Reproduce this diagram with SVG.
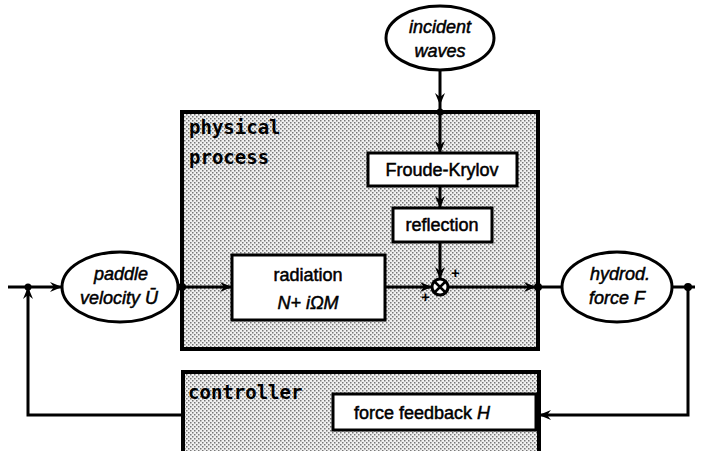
<svg xmlns="http://www.w3.org/2000/svg" width="701" height="451" viewBox="0 0 701 451">
<style>
.ln{stroke:#000;stroke-width:3;fill:none}
.box{fill:#fff;stroke:#000;stroke-width:3}
.shade{fill:url(#dots);stroke:#000;stroke-width:4}
.t{font-family:"Liberation Sans",Arial,sans-serif;font-size:18px;fill:#000;stroke:#000;stroke-width:0.5;text-anchor:middle}
.ti{font-family:"Liberation Sans",Arial,sans-serif;font-size:18px;font-style:italic;fill:#000;stroke:#000;stroke-width:0.5;text-anchor:middle}
.bt{font-family:"DejaVu Sans Mono",monospace;font-size:19px;font-weight:bold;fill:#000}
</style>
<defs>
<pattern id="dots" width="4" height="4" patternUnits="userSpaceOnUse">
<rect width="4" height="4" fill="#f0f0f0"/>
<rect x="0" y="0" width="1.5" height="1.5" fill="#777"/>
<rect x="2" y="2" width="1.5" height="1.5" fill="#777"/>
</pattern>
<marker id="ar" markerWidth="12" markerHeight="10" refX="11" refY="5" orient="auto" markerUnits="userSpaceOnUse">
<path d="M0,0 L12,5 L0,10 L4,5 Z" fill="#000"/>
</marker>
</defs>
<g id="physical-process">
<rect class="shade" x="182" y="112" width="356" height="237"/>
<text class="bt" x="189" y="134">physical</text>
<text class="bt" x="189" y="164">process</text>
</g>
<g id="controller">
<rect class="shade" x="183" y="372" width="356" height="84"/>
<text class="bt" x="188" y="399">controller</text>
</g>
<g id="incident-waves">
<ellipse cx="440" cy="38" rx="54" ry="32" fill="#fff" stroke="#000" stroke-width="3"/>
<text class="ti" x="440" y="33">incident</text>
<text class="ti" x="440" y="57">waves</text>
</g>
<g id="paddle-velocity">
<ellipse cx="120" cy="287" rx="58" ry="35" fill="#fff" stroke="#000" stroke-width="3"/>
<text class="ti" x="121" y="280">paddle</text>
<text class="ti" x="119" y="304">velocity Ū</text>
</g>
<g id="hydrod-force">
<ellipse cx="617" cy="287" rx="55" ry="35" fill="#fff" stroke="#000" stroke-width="3"/>
<text class="ti" x="620" y="280">hydrod.</text>
<text class="ti" x="617" y="304">force F</text>
</g>
<g id="froude-krylov">
<rect class="box" x="368" y="153" width="149" height="33"/>
<text class="t" x="442" y="176">Froude-Krylov</text>
</g>
<g id="reflection">
<rect class="box" x="393" y="208" width="99" height="34"/>
<text class="t" x="442" y="231">reflection</text>
</g>
<g id="radiation">
<rect class="box" x="232" y="255" width="153" height="65"/>
<text class="t" x="308" y="281">radiation</text>
<text class="ti" x="308" y="309">N+ iΩM</text>
</g>
<g id="force-feedback">
<rect class="box" x="333" y="394" width="203" height="36"/>
<text class="t" x="422" y="419">force feedback <tspan font-style="italic">H</tspan></text>
</g>
<g id="sum">
<circle cx="440" cy="287" r="8" fill="#fff" stroke="#000" stroke-width="3"/>
<path d="M435,282 L445,292 M445,282 L435,292" stroke="#000" stroke-width="2.5"/>
<text x="451" y="278" font-family="Liberation Sans,sans-serif" font-size="15" font-weight="bold">+</text>
<text x="421" y="302" font-family="Liberation Sans,sans-serif" font-size="15" font-weight="bold">+</text>
</g>
<g id="connectors">
<line class="ln" x1="440" y1="70" x2="440" y2="104" marker-end="url(#ar)"/>
<line class="ln" x1="440" y1="104" x2="440" y2="152" marker-end="url(#ar)"/>
<line class="ln" x1="440" y1="186" x2="440" y2="207" marker-end="url(#ar)"/>
<line class="ln" x1="440" y1="242" x2="440" y2="278" marker-end="url(#ar)"/>
<line class="ln" x1="8" y1="287" x2="61" y2="287" marker-end="url(#ar)"/>
<line class="ln" x1="178" y1="287" x2="231" y2="287" marker-end="url(#ar)"/>
<line class="ln" x1="385" y1="287" x2="431" y2="287" marker-end="url(#ar)"/>
<line class="ln" x1="448" y1="287" x2="535" y2="287" marker-end="url(#ar)"/>
<line class="ln" x1="535" y1="287" x2="562" y2="287"/>
<line class="ln" x1="672" y1="287" x2="695" y2="287"/>
<polyline class="ln" points="688,287 688,415 540,415" marker-end="url(#ar)"/>
<polyline class="ln" points="183,415 28,415 28,288" marker-end="url(#ar)"/>
<circle cx="28" cy="287" r="3.5" fill="#000"/>
<circle cx="182" cy="287" r="4" fill="#000"/>
<circle cx="538" cy="287" r="4" fill="#000"/>
<circle cx="688" cy="287" r="4" fill="#000"/>
<circle cx="440" cy="112" r="3.5" fill="#000"/>
</g>
</svg>
